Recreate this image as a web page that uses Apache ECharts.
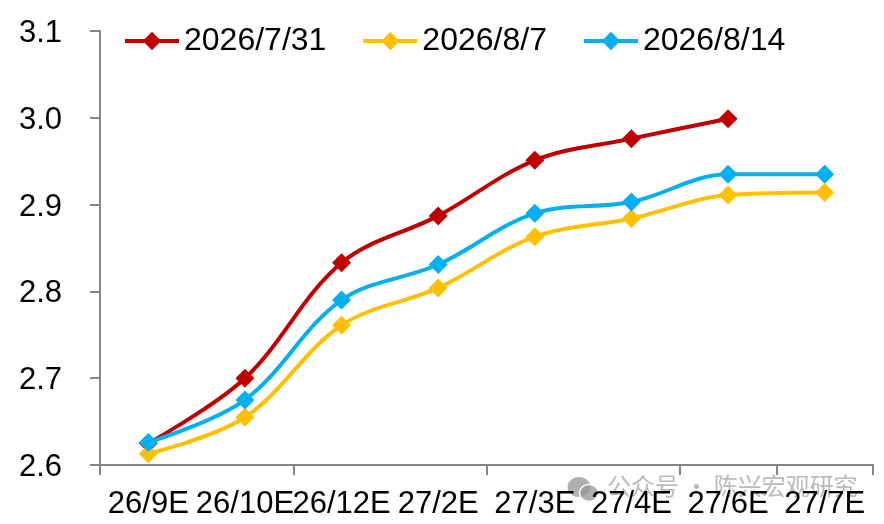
<!DOCTYPE html>
<html><head><meta charset="utf-8">
<style>html,body{margin:0;padding:0;background:#fff}#c{width:884px;height:524px}</style>
<script src="https://cdn.jsdelivr.net/npm/echarts@6/dist/echarts.min.js"></script>
</head><body><div id="c"></div>
<script>
const categories=['26/9E','26/10E','26/12E','27/2E','27/3E','27/4E','27/6E','27/7E'];
const s0731=[2.625,2.70,2.833,2.887,2.951,2.976,2.999,null];
const s0807=[2.613,2.655,2.761,2.804,2.863,2.884,2.911,2.914];
const s0814=[2.626,2.675,2.790,2.831,2.890,2.903,2.935,2.935];
const names=['2026/7/31','2026/8/7','2026/8/14'];
const colors=['#C00000','#FFC000','#00B0F0'];
const font='"Liberation Sans",Arial,sans-serif';
const mk=(n,d,c)=>({name:n,type:'line',data:d,smooth:0.35,symbol:'diamond',symbolSize:19,showSymbol:true,
  lineStyle:{color:c,width:4},itemStyle:{color:c},connectNulls:false});
const gray='rgba(150,150,150,0.75)';
const chart=echarts.init(document.getElementById('c'),null,{renderer:'canvas'});
chart.setOption({
  animation:false,
  grid:{left:100,right:11,top:31,bottom:59,containLabel:false},
  legend:{top:20,left:118,itemGap:35,itemWidth:54,itemHeight:23,
    lineStyle:{width:4},
    textStyle:{fontFamily:font,fontSize:32,color:'#000',padding:[2,0,0,0]},
    data:names},
  xAxis:{type:'category',data:categories,boundaryGap:true,
    axisLine:{lineStyle:{color:'#868686',width:2}},
    axisTick:{show:true,interval:1,length:10,lineStyle:{color:'#868686',width:2}},
    axisLabel:{interval:0,fontFamily:font,fontSize:31,color:'#000',margin:24,hideOverlap:false}},
  yAxis:{type:'value',min:2.6,max:3.1,interval:0.1,
    axisLine:{show:true,lineStyle:{color:'#868686',width:2}},
    axisTick:{show:true,length:10,lineStyle:{color:'#868686',width:2}},
    splitLine:{show:false},
    axisLabel:{fontFamily:font,fontSize:31,color:'#000',margin:38,verticalAlign:'top',lineHeight:5,formatter:v=>v.toFixed(1)}},
  series:[mk(names[0],s0731,colors[0]),mk(names[1],s0807,colors[1]),mk(names[2],s0814,colors[2])],
  graphic:[
    {type:'text',left:607,top:474,silent:true,z:-1,style:{text:'公众号 · 陈兴宏观研究',fontFamily:'"Noto Sans CJK SC"',fontSize:24,fill:'rgba(130,130,130,0.55)'}},
    {type:'ellipse',silent:true,z:-1,shape:{cx:579,cy:487,rx:11.5,ry:10},style:{fill:gray}},
    {type:'ellipse',silent:true,z:-1,shape:{cx:589,cy:493,rx:9.5,ry:8.5},style:{fill:gray,stroke:'#fff',lineWidth:1.5}}
  ]
});
</script></body></html>
